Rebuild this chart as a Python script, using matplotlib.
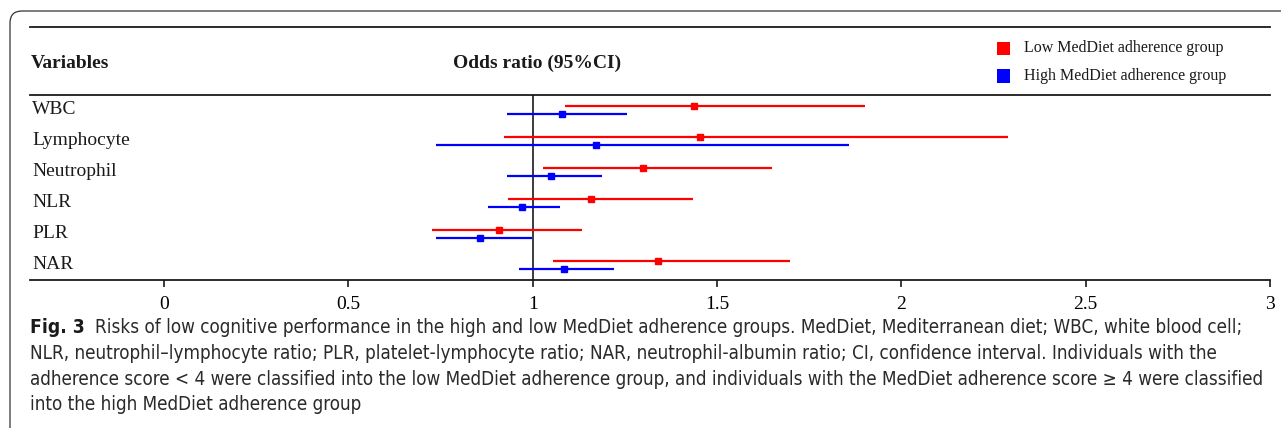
import matplotlib
matplotlib.use('Agg')
import matplotlib.pyplot as plt
from matplotlib import font_manager
from matplotlib.lines import Line2D
from matplotlib.patches import Rectangle, FancyBboxPatch
from matplotlib.transforms import IdentityTransform
import numpy as np

# odds ratios with 95% CI
variables = ['WBC', 'Lymphocyte', 'Neutrophil', 'NLR', 'PLR', 'NAR']
low_or = [1.438, 1.453, 1.300, 1.157, 0.908, 1.341]
low_lo = [1.088, 0.922, 1.027, 0.932, 0.726, 1.056]
low_hi = [1.902, 2.290, 1.649, 1.434, 1.134, 1.699]
high_or = [1.080, 1.171, 1.050, 0.970, 0.858, 1.084]
high_lo = [0.929, 0.737, 0.930, 0.878, 0.737, 0.963]
high_hi = [1.256, 1.858, 1.187, 1.074, 0.998, 1.220]
ticks = [0, 0.5, 1, 1.5, 2, 2.5, 3]
tick_labels = ['0', '0.5', '1', '1.5', '2', '2.5', '3']
legend_labels = ['Low MedDiet adherence group', 'High MedDiet adherence group']

caption = [
    'Risks of low cognitive performance in the high and low MedDiet adherence groups. MedDiet, Mediterranean diet; WBC, white blood cell;',
    'NLR, neutrophil\u2013lymphocyte ratio; PLR, platelet-lymphocyte ratio; NAR, neutrophil-albumin ratio; CI, confidence interval. Individuals with the',
    'adherence score < 4 were classified into the low MedDiet adherence group, and individuals with the MedDiet adherence score \u2265 4 were classified',
    'into the high MedDiet adherence group',
]

RED = '#ff0000'
BLUE = '#0000ff'
INK = '#1a1a1a'
SERIF = 'Liberation Serif'

names = {f.name for f in font_manager.fontManager.ttflist}
CAP_FONT = 'Liberation Sans Narrow' if 'Liberation Sans Narrow' in names else 'DejaVu Sans'

W, H = 1281, 428
fig = plt.figure(figsize=(W / 100, H / 100), dpi=100)

def fx(px):
    return px / W

def fy(py):
    return 1 - py / H

# plot area
ax = fig.add_axes([fx(30), fy(280), fx(1270) - fx(30), (280 - 95) / H])
ax.set_xlim(-0.364, 3.0)
ax.set_ylim(5.494, -0.474)

y = np.arange(len(variables))
off = 0.13
ax.hlines(y - off, low_lo, low_hi, color=RED, lw=1.6)
ax.plot(low_or, y - off, 's', color=RED, ms=4.6, zorder=3)
ax.hlines(y + off, high_lo, high_hi, color=BLUE, lw=1.6)
ax.plot(high_or, y + off, 's', color=BLUE, ms=4.6, zorder=3)
ax.axvline(1, color=INK, lw=1.2, zorder=1)

for s in ['left', 'right']:
    ax.spines[s].set_visible(False)
for s in ['top', 'bottom']:
    ax.spines[s].set_linewidth(1.3)
    ax.spines[s].set_color(INK)

ax.set_yticks([])
ax.set_xticks(ticks)
ax.set_xticklabels(tick_labels, fontfamily=SERIF, fontsize=14)
ax.tick_params(axis='x', direction='out', length=5, width=1.2, color=INK, pad=6.5)

for i, v in enumerate(variables):
    ax.text(0.002, i, v, transform=ax.get_yaxis_transform(), ha='left', va='center',
            fontfamily=SERIF, fontsize=14, color=INK)

# header
fig.add_artist(Line2D([fx(30), fx(1270)], [fy(27), fy(27)], transform=fig.transFigure,
                      lw=1.3, color=INK))
fig.text(fx(31), fy(63), 'Variables', ha='left', va='center', fontfamily=SERIF,
         fontweight='bold', fontsize=14, color=INK)
fig.text(fx(537), fy(63), 'Odds ratio (95%CI)', ha='center', va='center', fontfamily=SERIF,
         fontweight='bold', fontsize=14, color=INK)

# legend
for k, (lab, col) in enumerate(zip(legend_labels, [RED, BLUE])):
    yc = 48.5 + 27.5 * k
    fig.add_artist(Rectangle((fx(997), fy(yc + 6.5)), 13 / W, 13 / H,
                             transform=fig.transFigure, color=col, lw=0))
    fig.text(fx(1024), fy(yc), lab, ha='left', va='center', fontfamily=SERIF,
             fontsize=11.5, color=INK)

# outer frame
fig.add_artist(FancyBboxPatch((10, -60), 1400, 417 + 60, boxstyle='round,pad=0,rounding_size=12',
                              transform=IdentityTransform(), fill=False, lw=0.9, ec='#333333'))

# caption, sized so line 3 spans the text block
renderer = fig.canvas.get_renderer()
probe = fig.text(0, 0, caption[2], fontfamily=CAP_FONT, fontstretch='condensed', fontsize=12)
size = 12 * 1237 / probe.get_window_extent(renderer).width
probe.remove()

baselines = [333, 359, 385, 410]
figlab = fig.text(fx(30), fy(baselines[0]), 'Fig. 3', ha='left', va='baseline', fontfamily=CAP_FONT,
                  fontstretch='condensed', fontweight='bold', fontsize=size * 1.02, color=INK)
x1 = 30 + figlab.get_window_extent(renderer).width + 10
fig.text(fx(x1), fy(baselines[0]), caption[0], ha='left', va='baseline', fontfamily=CAP_FONT,
         fontstretch='condensed', fontsize=size, color='#2a2a2a')
for line, b in zip(caption[1:], baselines[1:]):
    fig.text(fx(30), fy(b), line, ha='left', va='baseline', fontfamily=CAP_FONT,
             fontstretch='condensed', fontsize=size, color='#2a2a2a')

fig.savefig('out.png', dpi=100)
